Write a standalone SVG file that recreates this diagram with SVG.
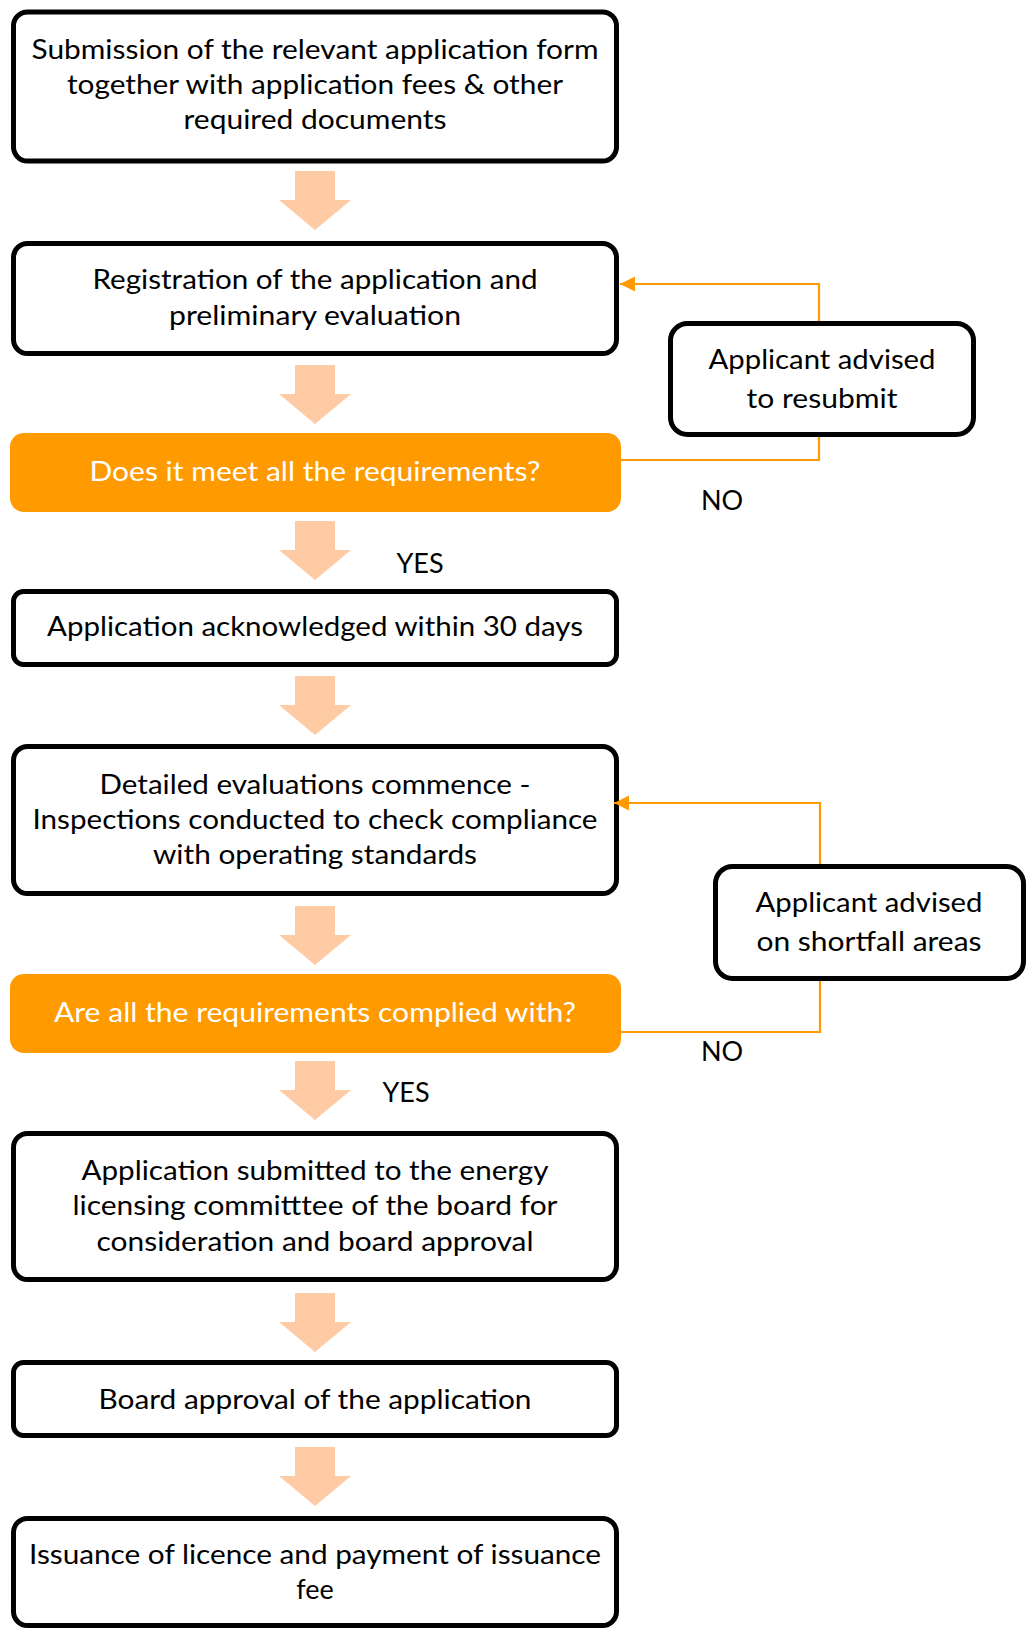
<svg xmlns="http://www.w3.org/2000/svg" width="1034" height="1628" viewBox="0 0 1034 1628">
<style>
.box{fill:#fff;stroke:#000;stroke-width:5}
.side{fill:#fff;stroke:#000;stroke-width:5}
.dec{fill:#FF9A00;stroke:none}
.t{font-family:Lato,"Open Sans",sans-serif;font-size:27px;fill:#000;text-anchor:middle}
.w{fill:#fff}
.arr{fill:#FFCBA5}
.con{fill:none;stroke:#FF9A00;stroke-width:2.2}
</style>
<defs>
<marker id="ah" viewBox="0 0 10 10" refX="10" refY="5" markerWidth="7" markerHeight="7" markerUnits="strokeWidth" orient="auto">
<path d="M0,0 L10,5 L0,10 z" fill="#FF9A00"/>
</marker>
<path id="down" d="M-20,0 H20 V29 H36 L0,59 L-36,29 H-20 Z"/>
</defs>
<rect width="1034" height="1628" fill="#fff"/>

<g id="arrows">
<use href="#down" class="arr" x="315" y="171"/>
<use href="#down" class="arr" x="315" y="365"/>
<use href="#down" class="arr" x="315" y="521"/>
<use href="#down" class="arr" x="315" y="676"/>
<use href="#down" class="arr" x="315" y="906"/>
<use href="#down" class="arr" x="315" y="1061"/>
<use href="#down" class="arr" x="315" y="1293"/>
<use href="#down" class="arr" x="315" y="1447"/>
</g>

<g id="n1">
<rect class="box" x="13.5" y="12" width="603" height="149" rx="14"/>
<text class="t" x="315" y="59" textLength="567" lengthAdjust="spacingAndGlyphs">Submission of the relevant application form</text>
<text class="t" x="315" y="94" textLength="496" lengthAdjust="spacingAndGlyphs">together with application fees &amp; other</text>
<text class="t" x="315" y="129" textLength="263" lengthAdjust="spacingAndGlyphs">required documents</text>
</g>
<g id="n2">
<rect class="box" x="13.5" y="243.5" width="603" height="110" rx="14"/>
<text class="t" x="315" y="289" textLength="445" lengthAdjust="spacingAndGlyphs">Registration of the application and</text>
<text class="t" x="315" y="325" textLength="292" lengthAdjust="spacingAndGlyphs">preliminary evaluation</text>
</g>
<g id="n3">
<rect class="dec" x="10" y="433" width="611" height="79" rx="14"/>
<text class="t w" x="315" y="481" textLength="451" lengthAdjust="spacingAndGlyphs">Does it meet all the requirements?</text>
</g>
<g id="n4">
<rect class="box" x="13.5" y="591.5" width="603" height="73" rx="10"/>
<text class="t" x="315" y="636" textLength="536" lengthAdjust="spacingAndGlyphs">Application acknowledged within 30 days</text>
</g>
<g id="n5">
<rect class="box" x="13.5" y="746.5" width="603" height="147" rx="14"/>
<text class="t" x="315" y="794" textLength="431" lengthAdjust="spacingAndGlyphs">Detailed evaluations commence -</text>
<text class="t" x="315" y="829" textLength="565" lengthAdjust="spacingAndGlyphs">Inspections conducted to check compliance</text>
<text class="t" x="315" y="864" textLength="324" lengthAdjust="spacingAndGlyphs">with operating standards</text>
</g>
<g id="n6">
<rect class="dec" x="10" y="974" width="611" height="79" rx="14"/>
<text class="t w" x="315" y="1022" textLength="522" lengthAdjust="spacingAndGlyphs">Are all the requirements complied with?</text>
</g>
<g id="n7">
<rect class="box" x="13.5" y="1133.5" width="603" height="146" rx="14"/>
<text class="t" x="315" y="1180" textLength="467" lengthAdjust="spacingAndGlyphs">Application submitted to the energy</text>
<text class="t" x="315" y="1215" textLength="485" lengthAdjust="spacingAndGlyphs">licensing committtee of the board for</text>
<text class="t" x="315" y="1251" textLength="437" lengthAdjust="spacingAndGlyphs">consideration and board approval</text>
</g>
<g id="n8">
<rect class="box" x="13.5" y="1362.5" width="603" height="73" rx="10"/>
<text class="t" x="315" y="1409" textLength="433" lengthAdjust="spacingAndGlyphs">Board approval of the application</text>
</g>
<g id="n9">
<rect class="box" x="13.5" y="1518.5" width="603" height="107" rx="14"/>
<text class="t" x="315" y="1564" textLength="572" lengthAdjust="spacingAndGlyphs">Issuance of licence and payment of issuance</text>
<text class="t" x="315" y="1599">fee</text>
</g>

<g id="connectors">
<path class="con" d="M621,460 H819 V284 H620" marker-end="url(#ah)"/>
<path class="con" d="M621,1032 H820 V803 H614" marker-end="url(#ah)"/>
<text class="t" x="722" y="510">NO</text>
<text class="t" x="722" y="1061">NO</text>
<text class="t" x="420" y="573">YES</text>
<text class="t" x="406" y="1102">YES</text>
</g>

<g id="s1">
<rect class="side" x="670.5" y="323.5" width="303" height="111" rx="17"/>
<text class="t" x="822" y="369" textLength="227" lengthAdjust="spacingAndGlyphs">Applicant advised</text>
<text class="t" x="822" y="408" textLength="151" lengthAdjust="spacingAndGlyphs">to resubmit</text>
</g>
<g id="s2">
<rect class="side" x="715.5" y="866.5" width="308" height="112" rx="17"/>
<text class="t" x="869" y="912" textLength="227" lengthAdjust="spacingAndGlyphs">Applicant advised</text>
<text class="t" x="869" y="951" textLength="225" lengthAdjust="spacingAndGlyphs">on shortfall areas</text>
</g>
</svg>
